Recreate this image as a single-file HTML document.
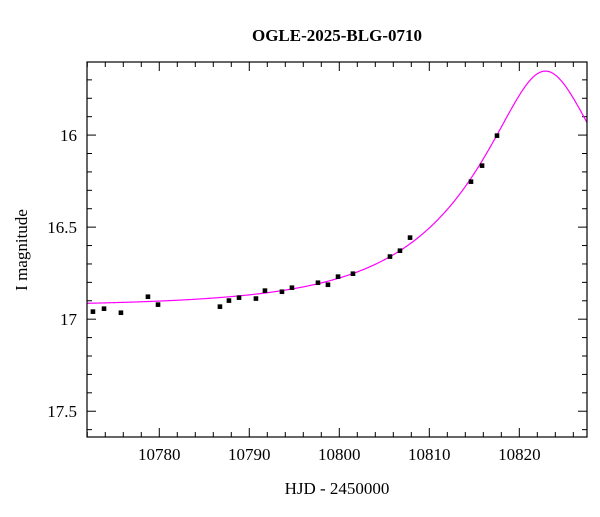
<!DOCTYPE html>
<html><head><meta charset="utf-8"><style>
body{margin:0;background:#fff;}
svg text{font-family:"Liberation Serif",serif;fill:#000;}
</style></head><body>
<svg id="chart" width="600" height="512" xmlns="http://www.w3.org/2000/svg">
<rect width="600" height="512" fill="#fff"/>
<text x="337" y="41" font-size="17" font-weight="bold" text-anchor="middle">OGLE-2025-BLG-0710</text>
<text x="337" y="494" font-size="17" text-anchor="middle">HJD - 2450000</text>
<text transform="translate(27,250) rotate(-90)" font-size="17" text-anchor="middle">I magnitude</text>
<g id="ticks"></g>
<g id="model"></g>
<g id="points"></g>
<rect x="87" y="62" width="500" height="375" fill="none" stroke="#000" stroke-width="1.2"/>
</svg>
<script>
const hjd = [10772.63,10773.86,10775.74,10778.74,10779.86,10786.74,10787.74,10788.86,10790.74,10791.74,10793.63,10794.74,10797.63,10798.74,10799.86,10801.52,10805.63,10806.74,10807.86,10814.63,10815.86,10817.52];
const mag = [16.959,16.943,16.965,16.878,16.921,16.932,16.899,16.883,16.888,16.845,16.851,16.829,16.802,16.813,16.769,16.753,16.660,16.628,16.557,16.253,16.166,16.003];
const magErr = [0.012,0.008,0.012,0.012,0.008,0.012,0.008,0.008,0.008,0.008,0.008,0.008,0.008,0.008,0.008,0.008,0.008,0.008,0.008,0.008,0.008,0.006];
const xTicks = [10780,10790,10800,10810,10820];
const yTicks = [16,16.5,17,17.5];
const modelT0 = 10822.9, modelU0 = 0.32, modelTE = 16.5, modelBase = 16.93;

const X0=87,X1=587,Y0=62,Y1=437, xmin=10771.97,xmax=10827.52,ymin=15.603,ymax=17.64;
const sx=v=>X0+(v-xmin)/(xmax-xmin)*(X1-X0);
const sy=v=>Y0+(v-ymin)/(ymax-ymin)*(Y1-Y0);
const NS="http://www.w3.org/2000/svg";
function mk(t,a){const e=document.createElementNS(NS,t);for(const k in a)e.setAttribute(k,a[k]);return e;}
const tg=document.getElementById('ticks');
for(let d=10772;d<=10827;d+=2){
  const x=sx(d), major=d%10===0, L=major?9:5;
  const t1=mk('line',{x1:x,x2:x,y1:Y1,y2:Y1-L,stroke:'#000'});
  
  
  tg.appendChild(t1);
  const t2=mk('line',{x1:x,x2:x,y1:Y0,y2:Y0+L,stroke:'#000'});
  
  
  tg.appendChild(t2);
}
xTicks.forEach(v=>{
  const t=mk('text',{x:sx(v),y:Y1+23,'font-size':17,'text-anchor':'middle'});t.textContent=v;
  
  
  tg.appendChild(t);
});
for(let i=7;i<=36;i++){
  const m=i/10, y=sy(m), major=i%5===0, L=major?9:5;
  if(m<ymin||m>ymax)continue;
  const t1=mk('line',{x1:X0,x2:X0+L,y1:y,y2:y,stroke:'#000'});
  
  
  tg.appendChild(t1);
  const t2=mk('line',{x1:X1,x2:X1-L,y1:y,y2:y,stroke:'#000'});
  
  
  tg.appendChild(t2);
}
for(let i=156;i<=176;i++){
  const m=i/10, y=sy(m), major=i%5===0, L=major?9:5;
  if(m<ymin||m>ymax)continue;
  const t1=mk('line',{x1:X0,x2:X0+L,y1:y,y2:y,stroke:'#000'});
  
  
  tg.appendChild(t1);
  const t2=mk('line',{x1:X1,x2:X1-L,y1:y,y2:y,stroke:'#000'});
  
  
  tg.appendChild(t2);
}
yTicks.forEach(v=>{
  const t=mk('text',{x:X0-10,y:sy(v)+6,'font-size':17,'text-anchor':'end'});t.textContent=v;
  
  
  tg.appendChild(t);
});
// model
let d='';
for(let i=0;i<=500;i++){
  const t=xmin+(xmax-xmin)*i/500;
  const tau=(t-modelT0)/modelTE, u=Math.sqrt(tau*tau+modelU0*modelU0);
  const A=(u*u+2)/(u*Math.sqrt(u*u+4));
  const m=modelBase-2.5*Math.log10(A);
  d+=(i?'L':'M')+sx(t).toFixed(2)+','+sy(m).toFixed(2);
}
const path=mk('path',{d:d,fill:'none',stroke:'#ff00ff','stroke-width':1.2});


document.getElementById('model').appendChild(path);
const pg=document.getElementById('points');
hjd.forEach((t,i)=>{
  const x=sx(t), y=sy(mag[i]);
  const eb=mk('line',{x1:x,x2:x,y1:sy(mag[i]-magErr[i]),y2:sy(mag[i]+magErr[i]),stroke:'#000','stroke-width':1});
  
  
  pg.appendChild(eb);
  const p=mk('rect',{x:x-2.3,y:y-2.3,width:4.6,height:4.6,fill:'#000'});
  
  
  pg.appendChild(p);
});
</script>
</body></html>
